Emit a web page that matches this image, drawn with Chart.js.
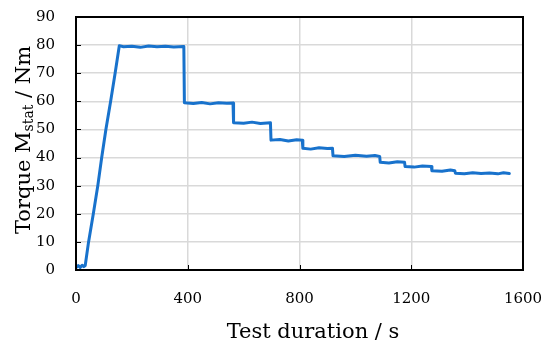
<!DOCTYPE html><html lang="en">
<head>
  <meta charset="UTF-8" />
  <title>Torque vs test duration</title>
  <style>
    * { margin: 0; padding: 0; box-sizing: border-box; }
    body { background: #fff; width: 550px; height: 353px; overflow: hidden; }
  </style>
</head>
<body>
  <canvas id="torqueChart" width="550" height="353"></canvas>
  <script src="https://cdn.jsdelivr.net/npm/chart.js"></script>
  <script>
    // time in s, torque in Nm
    const timeS = [
      0, 8, 15, 22, 28, 33, 45, 62, 78, 92, 107, 124, 140, 155,
      170, 200, 230, 260, 290, 320, 350, 386,
      388, 420, 450, 480, 510, 540, 562,
      564, 600, 630, 660, 696,
      698, 730, 760, 790, 810,
      812, 840, 870, 900, 918,
      920, 960, 1000, 1040, 1070, 1087,
      1089, 1120, 1150, 1176,
      1178, 1210, 1240, 1272,
      1274, 1310, 1340, 1356,
      1358, 1390, 1420, 1450, 1480, 1510, 1530, 1551
    ];
    const torqueNm = [
      0.8, 1.6, 0.9, 1.7, 1.2, 1.6, 10, 20, 30, 40, 50, 60, 70, 79.8,
      79.4, 79.6, 79.2, 79.7, 79.4, 79.6, 79.3, 79.5,
      59.5, 59.2, 59.6, 59.1, 59.5, 59.3, 59.4,
      52.4, 52.2, 52.6, 52.1, 52.4,
      46.2, 46.4, 45.9, 46.3, 46.2,
      43.3, 43.0, 43.5, 43.2, 43.3,
      40.6, 40.4, 40.8, 40.5, 40.7, 40.4,
      38.3, 38.1, 38.5, 38.3,
      36.8, 36.6, 37.0, 36.8,
      35.3, 35.1, 35.6, 35.3,
      34.4, 34.2, 34.6, 34.3, 34.5, 34.2, 34.6, 34.3
    ];
    const xTicks = [0, 400, 800, 1200, 1600];
    const yTicks = [0, 10, 20, 30, 40, 50, 60, 70, 80, 90];

    const serif = "'DejaVu Serif', 'Liberation Serif', serif";

    // frame, inside ticks and the two axis titles (y one has a subscript)
    const framePlugin = {
      id: 'frame',
      afterDraw(chart) {
        const { ctx, chartArea: a, scales } = chart;
        ctx.save();
        ctx.strokeStyle = '#000000';
        ctx.lineWidth = 1;
        ctx.beginPath();
        xTicks.forEach(v => {
          const px = Math.round(scales.x.getPixelForValue(v)) + 0.5;
          ctx.moveTo(px, a.bottom); ctx.lineTo(px, a.bottom - 5);
        });
        yTicks.forEach(v => {
          const py = Math.round(scales.y.getPixelForValue(v)) + 0.5;
          ctx.moveTo(a.left, py); ctx.lineTo(a.left + 5, py);
        });
        ctx.stroke();
        ctx.lineWidth = 2;
        ctx.strokeRect(Math.round(a.left), Math.round(a.top), Math.round(a.right - a.left), Math.round(a.bottom - a.top));

        ctx.fillStyle = '#000';
        const big = "21px " + serif, small = "14px " + serif;

        // x axis title
        ctx.font = big;
        ctx.textAlign = 'center';
        ctx.textBaseline = 'middle';
        ctx.fillText('Test duration / s', 313, 333);

        // y axis title
        const p1 = 'Torque M', p2 = 'stat', p3 = ' / Nm';
        ctx.font = big; const w1 = ctx.measureText(p1).width, w3 = ctx.measureText(p3).width;
        ctx.font = small; const w2 = ctx.measureText(p2).width;
        const total = w1 + w2 + w3;
        ctx.translate(30, 140);
        ctx.rotate(-Math.PI / 2);
        ctx.textBaseline = 'alphabetic';
        ctx.textAlign = 'left';
        let x0 = -total / 2;
        ctx.font = big; ctx.fillText(p1, x0, 0); x0 += w1;
        ctx.font = small; ctx.fillText(p2, x0, 3); x0 += w2;
        ctx.font = big; ctx.fillText(p3, x0, 0);
        ctx.restore();
      }
    };

    new Chart(document.getElementById('torqueChart'), {
      type: 'line',
      data: {
        datasets: [{
          data: timeS.map((t, i) => ({ x: t, y: torqueNm[i] })),
          borderColor: '#1872cc',
          borderWidth: 3,
          borderJoinStyle: 'round',
          borderCapStyle: 'round',
          pointRadius: 0,
          tension: 0,
          fill: false
        }]
      },
      options: {
        responsive: false,
        animation: false,
        layout: { padding: { left: 0, right: 27, top: 17, bottom: 0 } },
        plugins: { legend: { display: false }, tooltip: { enabled: false } },
        scales: {
          x: {
            type: 'linear', min: 0, max: 1600,
            afterBuildTicks: s => { s.ticks = xTicks.map(v => ({ value: v })); },
            afterFit: s => { s.height = 83; s.paddingLeft = 0; s.paddingRight = 0; },
            grid: { color: '#d9d9d9', lineWidth: 1.5, drawTicks: false },
            border: { display: false },
            ticks: {
              color: '#000', padding: 20, autoSkip: false, maxRotation: 0,
              font: { family: serif, size: 15 },
              callback: v => String(v)
            }
          },
          y: {
            min: 0, max: 90,
            afterBuildTicks: s => { s.ticks = yTicks.map(v => ({ value: v })); },
            afterFit: s => { s.width = 76; s.paddingTop = 0; s.paddingBottom = 0; },
            grid: { color: '#d9d9d9', lineWidth: 1.5, drawTicks: false },
            border: { display: false },
            ticks: {
              color: '#000', padding: 21, autoSkip: false,
              font: { family: serif, size: 15 },
              callback: v => String(v)
            }
          }
        }
      },
      plugins: [framePlugin]
    });
  </script>
</body>
</html>
